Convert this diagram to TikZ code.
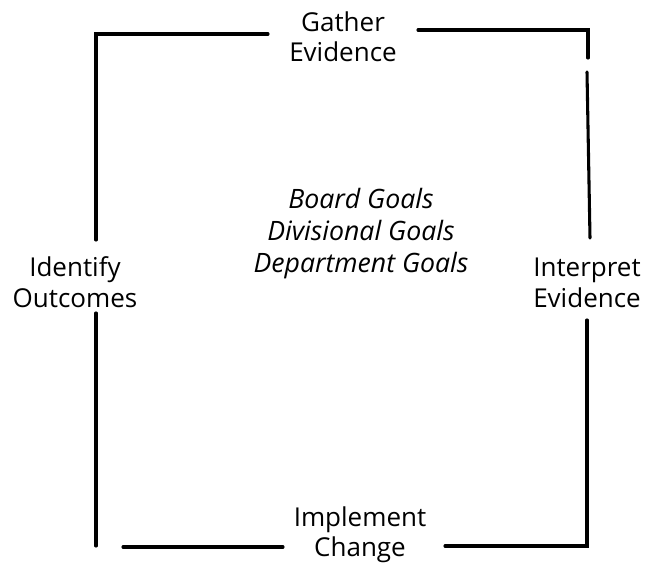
\documentclass[tikz,border=0pt]{standalone}
\usepackage{fontspec}
\setmainfont{Open Sans}
\begin{document}
\begin{tikzpicture}[x=0.75pt,y=-0.75pt,
  seg/.style={line width=2.3pt,line cap=round},
  lbl/.style={align=center,font=\fontsize{19.5}{22.8}\selectfont,inner sep=0pt},
  goal/.style={align=center,font=\fontsize{20}{24}\selectfont\itshape,inner sep=0pt}]
\useasboundingbox (0,0) rectangle (646,564);
\node[lbl] (gather) at (343,37) {Gather\\Evidence};
\node[lbl] (ident) at (75,282) {Identify\\Outcomes};
\node[lbl] (interp) at (587,283) {Interpret\\Evidence};
\node[lbl] (impl) at (360,535) {Implement\\Change};
\node[goal] (goals) at (361,234) {Board Goals\\Divisional Goals\\Department Goals};
\coordinate (tl) at (96,34);
\coordinate (tr) at (588,30);
\coordinate (br) at (587,546);
\coordinate (bl) at (96,546);
\draw[seg] (268,34) -- (tl) -- (96,240);
\draw[seg] (418,30) -- (tr) -- (588,58);
\draw[seg] (587,72) -- (590,238);
\draw[seg] (587,320) -- (br) -- (445,546);
\draw[seg] (123,547) -- (283,547);
\draw[seg] (96,313) -- (bl);
\end{tikzpicture}
\end{document}
